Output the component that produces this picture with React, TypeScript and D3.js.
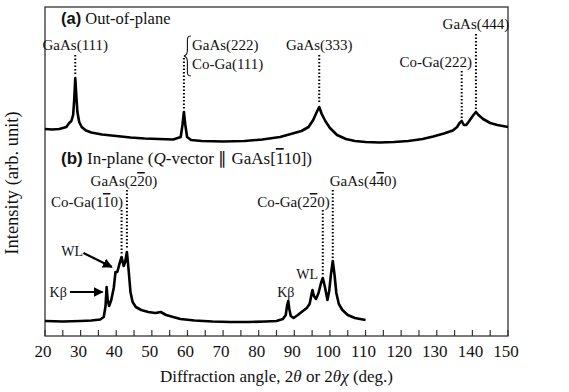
import React, { useEffect, useRef } from 'react';
import * as d3 from 'd3';

// x axis ticks (deg.)
const majorTicks = [20, 30, 40, 50, 60, 70, 80, 90, 100, 110, 120, 130, 140, 150];
const minorTicks = [25, 35, 45, 55, 65, 75, 85, 95, 105, 115, 125, 135, 145];

// (a) out-of-plane scan
const outAngle = [20, 22, 24, 26, 26.8, 27.4, 27.9, 28.2, 28.5, 28.8, 29.1, 29.6, 30.3, 31.5, 33, 36, 40, 44, 48, 52, 56,
  58.1, 58.6, 59.0, 59.4, 59.9, 61, 64, 70, 76, 81, 86, 89, 92, 94, 95.3, 96.3, 97.0, 97.7, 98.7, 100, 102, 104.5,
  107, 110, 114, 118, 122, 126, 129, 132, 134.5, 135.7, 136.4, 137.0, 137.6, 138.3, 139.3, 140.3, 141.0, 141.7,
  143, 145, 147, 150];
const outIntensity = [207, 206.5, 207, 209, 213, 215, 221, 236, 258, 240, 224, 214, 209, 205.5, 203.5, 201.5, 200, 198.5,
  197.5, 197, 196.5, 199, 211, 224, 211, 199, 196, 195, 194.5, 195, 196.5, 199, 202, 205, 209, 216, 224, 229, 222, 215,
  208, 201, 197, 195, 194, 193.5, 194, 195, 197, 199.5, 202.5, 205.5, 209, 213, 215, 211, 211, 216, 221, 224, 221,
  217, 213, 211, 209];

// (b) in-plane scan
const inAngle = [20, 25, 30, 33, 35.5, 36.5, 37.0, 37.3, 37.6, 38.0, 38.6, 39.3, 39.8, 40.3, 40.9, 41.5, 42.1, 42.5,
  43.0, 43.5, 44.0, 44.6, 45.5, 47, 49, 51, 52.5, 54, 56, 58, 62, 67, 72, 77, 82, 85, 86.8, 87.6, 88.0, 88.3,
  88.6, 89.0, 89.8, 91, 92.4, 93.5, 94.3, 94.8, 95.1, 95.5, 96.1, 96.8, 97.5, 98.0, 98.6, 99.3, 99.8, 100.3, 100.8,
  101.3, 101.8, 102.5, 103.5, 105, 107, 110];
const inIntensity = [15, 14.5, 15, 15.5, 16.5, 19, 30, 49, 36, 30, 36, 48, 64, 64, 72, 79, 70, 74, 84, 65, 44, 34,
  29, 26, 24, 23, 24, 21, 19, 17, 15.5, 14.5, 14, 14, 14.5, 15, 17, 21, 31, 35, 27, 20, 18, 21, 25, 28, 32, 41, 46, 40,
  37, 43, 53, 58, 49, 36, 45, 62, 75, 61, 43, 32, 26, 21, 18, 16];

// peak markers
const outPeaks = [28.5, 59.0, 97.0, 137.0, 141.0];
const inPeaks = [41.5, 43.0, 98.0, 100.8];

const serif = 'Liberation Serif, Times New Roman, serif';
const sans = 'Liberation Sans, Arial, sans-serif';

type Part = { t: string; bold?: boolean; italic?: boolean; over?: boolean };

export default function App() {
  const chartRef = useRef<SVGSVGElement>(null);

  useEffect(() => {
    if (!chartRef.current) return;
    const svg = d3.select(chartRef.current);
    svg.selectAll('*').remove();

    const W = 569;
    const H = 392;
    const margin = { top: 7, right: 61, bottom: 56, left: 45 };

    const x = d3.scaleLinear().domain([20, 150]).range([margin.left, W - margin.right]);
    const y = d3.scaleLinear().domain([0, 329]).range([H - margin.bottom, margin.top]);
    const y0 = H - margin.bottom;

    const defs = svg.append('defs');
    defs.append('marker')
      .attr('id', 'arr')
      .attr('viewBox', '0 0 10 10')
      .attr('refX', 9)
      .attr('refY', 5)
      .attr('markerWidth', 4.5)
      .attr('markerHeight', 4.5)
      .attr('orient', 'auto')
      .append('path')
      .attr('d', 'M0,0 L10,5 L0,10 z')
      .attr('fill', '#000');

    // frame
    svg.append('rect')
      .attr('x', margin.left)
      .attr('y', margin.top)
      .attr('width', W - margin.left - margin.right)
      .attr('height', y0 - margin.top)
      .attr('fill', 'none')
      .attr('stroke', '#333')
      .attr('stroke-width', 1.3);

    // ticks (inward)
    svg.append('g')
      .selectAll('line')
      .data([...majorTicks, ...minorTicks])
      .enter().append('line')
      .attr('x1', d => x(d))
      .attr('x2', d => x(d))
      .attr('y1', y0)
      .attr('y2', y0 - 6)
      .attr('stroke', '#333')
      .attr('stroke-width', 1.2);

    svg.append('g')
      .selectAll('text')
      .data(majorTicks)
      .enter().append('text')
      .attr('x', d => x(d) - 2)
      .attr('y', y0 + 21)
      .attr('text-anchor', 'middle')
      .attr('font-family', serif)
      .attr('font-size', 17)
      .attr('fill', '#111')
      .text(d => d);

    // axis titles
    const xt = svg.append('text')
      .attr('x', (margin.left + W - margin.right) / 2)
      .attr('y', H - 10)
      .attr('text-anchor', 'middle')
      .attr('font-family', serif)
      .attr('font-size', 17)
      .attr('fill', '#111');
    xt.append('tspan').text('Diffraction angle, 2');
    xt.append('tspan').attr('font-style', 'italic').text('θ');
    xt.append('tspan').text(' or 2');
    xt.append('tspan').attr('font-style', 'italic').text('θχ');
    xt.append('tspan').text(' (deg.)');

    svg.append('text')
      .attr('transform', `translate(18, 183) rotate(-90)`)
      .attr('text-anchor', 'middle')
      .attr('font-family', serif)
      .attr('font-size', 18.5)
      .attr('fill', '#111')
      .text('Intensity (arb. unit)');

    // curves
    const line = d3.line<[number, number]>()
      .x(d => x(d[0]))
      .y(d => y(d[1]));

    const outData = outAngle.map((a, i) => [a, outIntensity[i]] as [number, number]);
    const inData = inAngle.map((a, i) => [a, inIntensity[i]] as [number, number]);

    [outData, inData].forEach(data => {
      svg.append('path')
        .datum(data)
        .attr('d', line)
        .attr('fill', 'none')
        .attr('stroke', '#000')
        .attr('stroke-width', 2.6)
        .attr('stroke-linejoin', 'round');
    });

    // helpers
    const label = (px: number, py: number, parts: Part[], anchor = 'middle', size = 15) => {
      const t = svg.append('text')
        .attr('x', px)
        .attr('y', py)
        .attr('text-anchor', anchor)
        .attr('font-family', serif)
        .attr('font-size', size)
        .attr('fill', '#111');
      parts.forEach(p => {
        const s = t.append('tspan').text(p.t);
        if (p.bold) s.attr('font-family', sans).attr('font-weight', 'bold');
        if (p.italic) s.attr('font-style', 'italic');
        if (p.over) s.style('text-decoration', 'overline');
      });
      return t;
    };

    const peakVal = (angles: number[], vals: number[], a: number) => {
      const i = d3.minIndex(angles, d => Math.abs(d - a));
      return vals[i];
    };

    const dotted = (angles: number[], vals: number[], a: number, yTop: number) => {
      svg.append('line')
        .attr('x1', x(a))
        .attr('x2', x(a))
        .attr('y1', yTop)
        .attr('y2', y(peakVal(angles, vals, a)) - 3)
        .attr('stroke', '#000')
        .attr('stroke-width', 2)
        .attr('stroke-dasharray', '1.6,1.9');
    };

    // (a) annotations
    label(61, 24, [{ t: '(a)', bold: true }, { t: ' Out-of-plane' }], 'start', 16.5);

    label(x(outPeaks[0]), 50, [{ t: 'GaAs(111)' }]);
    dotted(outAngle, outIntensity, outPeaks[0], 55);

    const bx = x(outPeaks[1]);
    svg.append('path')
      .attr('d', `M${bx + 7},36 C${bx + 3},36 ${bx + 3.5},39 ${bx + 3.5},43 L${bx + 3.5},50 C${bx + 3.5},54 ${bx + 2},55.5 ${bx},56 C${bx + 2},56.5 ${bx + 3.5},58 ${bx + 3.5},62 L${bx + 3.5},69 C${bx + 3.5},73 ${bx + 3},76 ${bx + 7},76`)
      .attr('fill', 'none')
      .attr('stroke', '#111')
      .attr('stroke-width', 1.1);
    label(bx + 8, 50, [{ t: 'GaAs(222)' }], 'start');
    label(bx + 8, 69, [{ t: 'Co-Ga(111)' }], 'start');
    dotted(outAngle, outIntensity, outPeaks[1], 58);

    label(x(outPeaks[2]), 50, [{ t: 'GaAs(333)' }]);
    dotted(outAngle, outIntensity, outPeaks[2], 55);

    label(x(outPeaks[4]) - 4, 67, [{ t: 'Co-Ga(222)' }], 'end');
    dotted(outAngle, outIntensity, outPeaks[3], 71);

    label(x(outPeaks[4]), 29, [{ t: 'GaAs(444)' }]);
    dotted(outAngle, outIntensity, outPeaks[4], 34);

    // (b) annotations
    label(61, 164, [
      { t: '(b)', bold: true }, { t: ' In-plane (' }, { t: 'Q', italic: true },
      { t: '-vector ∥ GaAs[' }, { t: '1', over: true }, { t: '10])' },
    ], 'start', 17);

    label(x(inPeaks[1]) - 3, 186, [{ t: 'GaAs(2' }, { t: '2', over: true }, { t: '0)' }]);
    dotted(inAngle, inIntensity, inPeaks[1], 190);

    label(x(inPeaks[1]) - 4, 207, [{ t: 'Co-Ga(1' }, { t: '1', over: true }, { t: '0)' }], 'end');
    dotted(inAngle, inIntensity, inPeaks[0], 210);

    label(x(inPeaks[3]) - 3, 186, [{ t: 'GaAs(4' }, { t: '4', over: true }, { t: '0)' }], 'start');
    dotted(inAngle, inIntensity, inPeaks[3], 190);

    label(x(inPeaks[3]) - 3, 207, [{ t: 'Co-Ga(2' }, { t: '2', over: true }, { t: '0)' }], 'end');
    dotted(inAngle, inIntensity, inPeaks[2], 210);

    // WL / K-beta markers
    label(x(27.6), 256, [{ t: 'WL' }], 'middle', 14);
    svg.append('line')
      .attr('x1', x(30.8)).attr('y1', 253)
      .attr('x2', x(39.6) - 3).attr('y2', 267)
      .attr('stroke', '#000').attr('stroke-width', 2.2)
      .attr('marker-end', 'url(#arr)');

    label(x(23.7), 297, [{ t: 'Kβ' }], 'middle', 14);
    svg.append('line')
      .attr('x1', x(27.0)).attr('y1', 292)
      .attr('x2', x(37.3) - 4).attr('y2', 292)
      .attr('stroke', '#000').attr('stroke-width', 2.2)
      .attr('marker-end', 'url(#arr)');

    label(x(87.6), 297, [{ t: 'Kβ' }], 'middle', 14);
    label(x(93.6), 279, [{ t: 'WL' }], 'middle', 14);
  }, []);

  return (
    <svg
      ref={chartRef}
      width={569}
      height={392}
      style={{ position: 'absolute', left: 0, top: 0, background: '#fff' }}
    />
  );
}
